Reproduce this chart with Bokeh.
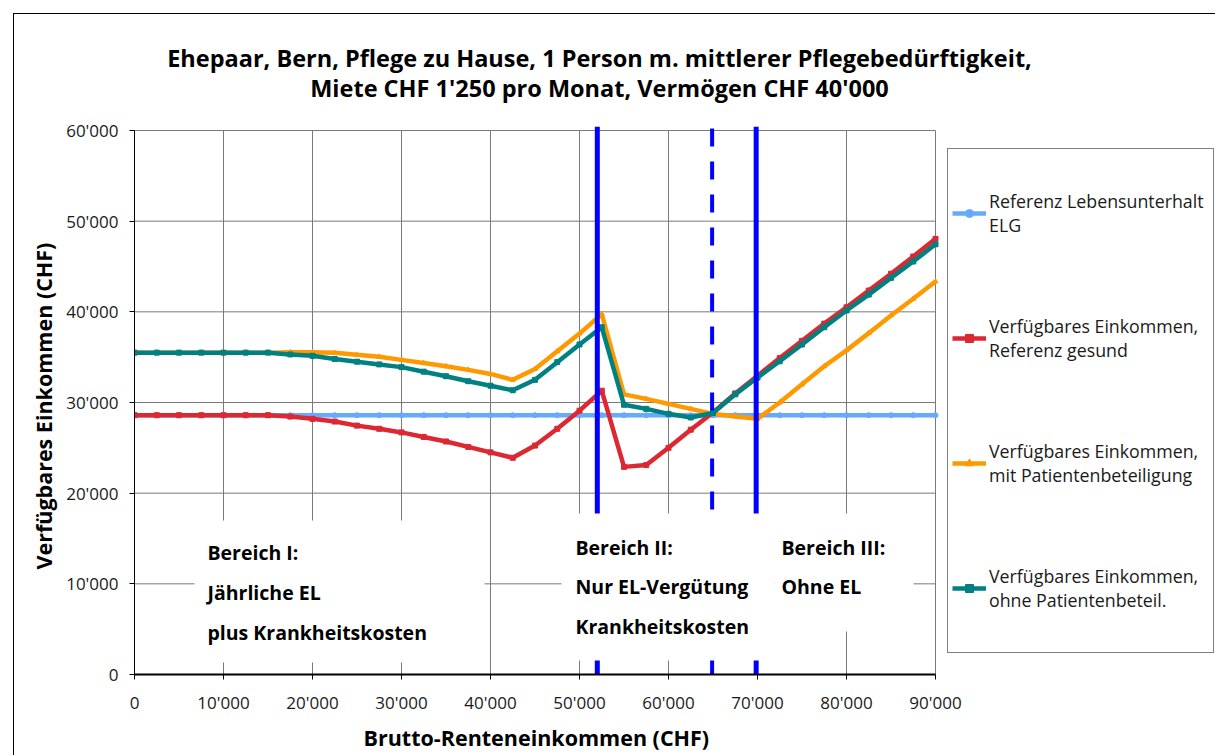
from bokeh.plotting import figure
from bokeh.models import Range1d, FixedTicker, Legend, LegendItem, Label, BoxAnnotation, Title
from bokeh.embed import file_html
from bokeh.resources import INLINE

# ---------------- data ----------------
brutto_renteneinkommen = [0, 2500, 5000, 7500, 10000, 12500, 15000, 17500, 20000, 22500,
                          25000, 27500, 30000, 32500, 35000, 37500, 40000, 42500, 45000, 47500,
                          50000, 52500, 55000, 57500, 60000, 62500, 65000, 67500, 70000, 72500,
                          75000, 77500, 80000, 82500, 85000, 87500, 90000]

referenz_lebensunterhalt = [28600, 28600, 28600, 28600, 28600, 28600, 28600, 28600, 28600, 28600,
                            28600, 28600, 28600, 28600, 28600, 28600, 28600, 28600, 28600, 28600,
                            28600, 28600, 28600, 28600, 28600, 28600, 28600, 28600, 28600, 28600,
                            28600, 28600, 28600, 28600, 28600, 28600, 28600]

referenz_gesund = [28600, 28600, 28600, 28600, 28600, 28600, 28600, 28450, 28200, 27900,
                   27450, 27100, 26700, 26200, 25700, 25100, 24500, 23900, 25250, 27100,
                   29100, 31300, 22900, 23100, 25000, 27000, 28900, 31000, 32950, 34900,
                   36800, 38700, 40500, 42350, 44200, 46100, 48050]

mit_patientenbeteiligung = [35500, 35500, 35500, 35500, 35500, 35500, 35500, 35550, 35550, 35480,
                            35260, 35050, 34700, 34350, 34000, 33600, 33150, 32500, 33700, 35650,
                            37600, 39750, 30900, 30400, 29850, 29300, 28750, 28450, 28200, 30000,
                            32000, 34000, 35750, 37650, 39600, 41450, 43350]

ohne_patientenbeteiligung = [35500, 35500, 35500, 35500, 35500, 35500, 35500, 35300, 35150, 34800,
                             34500, 34200, 33900, 33400, 32900, 32350, 31850, 31350, 32500, 34450,
                             36400, 38300, 29750, 29300, 28750, 28350, 28850, 30900, 32750, 34550,
                             36400, 38300, 40150, 41900, 43750, 45550, 47450]

series_labels = ["Referenz Lebensunterhalt\nELG",
                 "Verfügbares Einkommen,\nReferenz gesund",
                 "Verfügbares Einkommen,\nmit Patientenbeteiligung",
                 "Verfügbares Einkommen,\nohne Patientenbeteil."]

x_ticks = [0, 10000, 20000, 30000, 40000, 50000, 60000, 70000, 80000, 90000]
x_tick_labels = ["0", "10'000", "20'000", "30'000", "40'000", "50'000", "60'000", "70'000", "80'000", "90'000"]
y_ticks = [0, 10000, 20000, 30000, 40000, 50000, 60000]
y_tick_labels = ["0", "10'000", "20'000", "30'000", "40'000", "50'000", "60'000"]

bereich_grenzen_solid = [52000, 69850]
bereich_grenze_dashed = [64900]

title_lines = ["Ehepaar, Bern, Pflege zu Hause, 1 Person m. mittlerer Pflegebedürftigkeit,",
               "Miete CHF 1'250 pro Monat, Vermögen CHF 40'000"]
x_axis_title = "Brutto-Renteneinkommen (CHF)"
y_axis_title = "Verfügbares Einkommen (CHF)"
bereich_texte = [["Bereich I:", "Jährliche EL", "plus Krankheitskosten"],
                 ["Bereich II:", "Nur EL-Vergütung", "Krankheitskosten"],
                 ["Bereich III:", "Ohne EL"]]

X_MIN, X_MAX = 0, 90000
Y_MIN, Y_MAX = 0, 60000

# ---------------- geometry (page pixels) ----------------
# canvas starts at page (14, 14) because of the outer chart frame (margin 13 + 1px border)
CANVAS_W, CANVAS_H = 1202, 742
PLOT_L, PLOT_R, PLOT_T, PLOT_B = 134, 935, 130, 674     # visible plot area of the chart
FRAME_L, FRAME_R, FRAME_T, FRAME_B = 134, 1216, 14, 674  # bokeh frame (extends under legend/title)
x_end = X_MAX * (FRAME_R - FRAME_L) / (PLOT_R - PLOT_L)
y_end = Y_MAX * (FRAME_B - FRAME_T) / (PLOT_B - PLOT_T)

FONT = "Open Sans"
p = figure(width=CANVAS_W, height=CANVAS_H, output_backend="svg", toolbar_location=None,
           x_range=Range1d(0, x_end), y_range=Range1d(0, y_end),
           min_border_left=FRAME_L - 14, min_border_right=0, min_border_top=0,
           min_border_bottom=CANVAS_H - (FRAME_B - 14))
p.styles = {"margin-left": "13px", "margin-top": "13px",
            "border-left": "1px solid black", "border-top": "1px solid black"}
p.background_fill_color = "white"
p.border_fill_color = "white"
p.outline_line_color = None
p.xgrid.visible = False
p.ygrid.visible = False

for ax, ticks, labels, bnds in ((p.xaxis[0], x_ticks, x_tick_labels, (X_MIN, X_MAX)),
                                (p.yaxis[0], y_ticks, y_tick_labels, (Y_MIN, Y_MAX))):
    ax.ticker = FixedTicker(ticks=ticks)
    ax.major_label_overrides = {t: l for t, l in zip(ticks, labels)}
    ax.bounds = bnds
    ax.axis_line_color = "black"
    ax.major_tick_line_color = "black"
    ax.major_tick_out = 5
    ax.major_tick_in = 0
    ax.minor_tick_line_color = None
    ax.major_label_text_font = FONT
    ax.major_label_text_font_size = "17px"
    ax.major_label_text_color = "#1a1a1a"

p.xaxis.axis_line_width = 2
p.xaxis.major_label_standoff = 11
p.yaxis.major_label_standoff = 11

# axis titles, centred on the visible plot area (not on the wider frame)
p.add_layout(Title(text=x_axis_title, align="left", offset=229, standoff=9,
                   text_font=FONT, text_font_size="21.5px", text_font_style="bold",
                   text_color="black"), "below")
p.add_layout(Title(text=y_axis_title, align="left", offset=105, standoff=11,
                   text_font=FONT, text_font_size="21.5px", text_font_style="bold",
                   text_color="black"), "left")

# grid lines limited to the plot area
GRID = "#7a7a7a"
p.segment(x0=x_ticks, y0=[Y_MIN] * len(x_ticks), x1=x_ticks, y1=[Y_MAX] * len(x_ticks),
          line_color=GRID, line_width=1, level="underlay")
p.segment(x0=[X_MIN] * len(y_ticks), y0=y_ticks, x1=[X_MAX] * len(y_ticks), y1=y_ticks,
          line_color=GRID, line_width=1, level="underlay")

# ---------------- series ----------------
colors = ["#66AAFF", "#DC2832", "#FF9900", "#008080"]
markers = ["circle", "square", "triangle", "square"]
series = [referenz_lebensunterhalt, referenz_gesund, mit_patientenbeteiligung, ohne_patientenbeteiligung]
items = []
for ys, c, m, lab in zip(series, colors, markers, series_labels):
    lr = p.line(brutto_renteneinkommen, ys, line_color=c, line_width=4.5)
    sr = p.scatter(brutto_renteneinkommen, ys, marker=m, size=5, fill_color=c, line_color=c)
    items.append(LegendItem(label=lab, renderers=[lr, sr]))

# ---------------- boundaries of the areas ----------------
top_ext = Y_MAX * 1.007
p.segment(x0=bereich_grenzen_solid, y0=[Y_MIN] * 2, x1=bereich_grenzen_solid, y1=[top_ext] * 2,
          line_color="#0000FF", line_width=5)
p.segment(x0=bereich_grenze_dashed, y0=[Y_MIN], x1=bereich_grenze_dashed, y1=[top_ext],
          line_color="#0000FF", line_width=4, line_dash="18 15")

# white boxes behind area texts
for l, r, b, t in ((6740, 39330, 1320, 16985), (47980, 72020, 1545, 17760), (72020, 87530, 4740, 17760)):
    p.add_layout(BoxAnnotation(left=l, right=r, bottom=b, top=t, fill_color="white", fill_alpha=1.0,
                               line_color=None, line_alpha=0))

# area texts (screen offsets from the bottom-left corner of the frame)
text_x = [73, 441, 647]
text_y = [[122, 82, 42], [127, 88, 48], [127, 88]]
for lines, tx, tys in zip(bereich_texte, text_x, text_y):
    for s, ty in zip(lines, tys):
        p.add_layout(Label(x=tx, y=ty, x_units="screen", y_units="screen", text=s,
                           text_font=FONT, text_font_size="19.5px", text_font_style="bold",
                           text_baseline="middle", text_align="left", text_color="black"))

# chart title
for s, ty in zip(title_lines, [617, 587]):
    p.add_layout(Label(x=599 - FRAME_L, y=ty, x_units="screen", y_units="screen", text=s,
                       text_font=FONT, text_font_size="23.5px", text_font_style="bold",
                       text_baseline="middle", text_align="center", text_color="black"))

# legend
legend = Legend(items=items, location=(947 - FRAME_L, FRAME_B - 653), padding=4, spacing=5, margin=0,
                label_height=120, label_width=220, glyph_width=34, glyph_height=20,
                label_standoff=3, border_line_color="black", border_line_width=1,
                background_fill_color="white", background_fill_alpha=1.0,
                label_text_font=FONT, label_text_font_size="17.8px", label_text_color="#1a1a1a")
p.add_layout(legend, "center")

open("out.html", "w").write(file_html(p, INLINE))
